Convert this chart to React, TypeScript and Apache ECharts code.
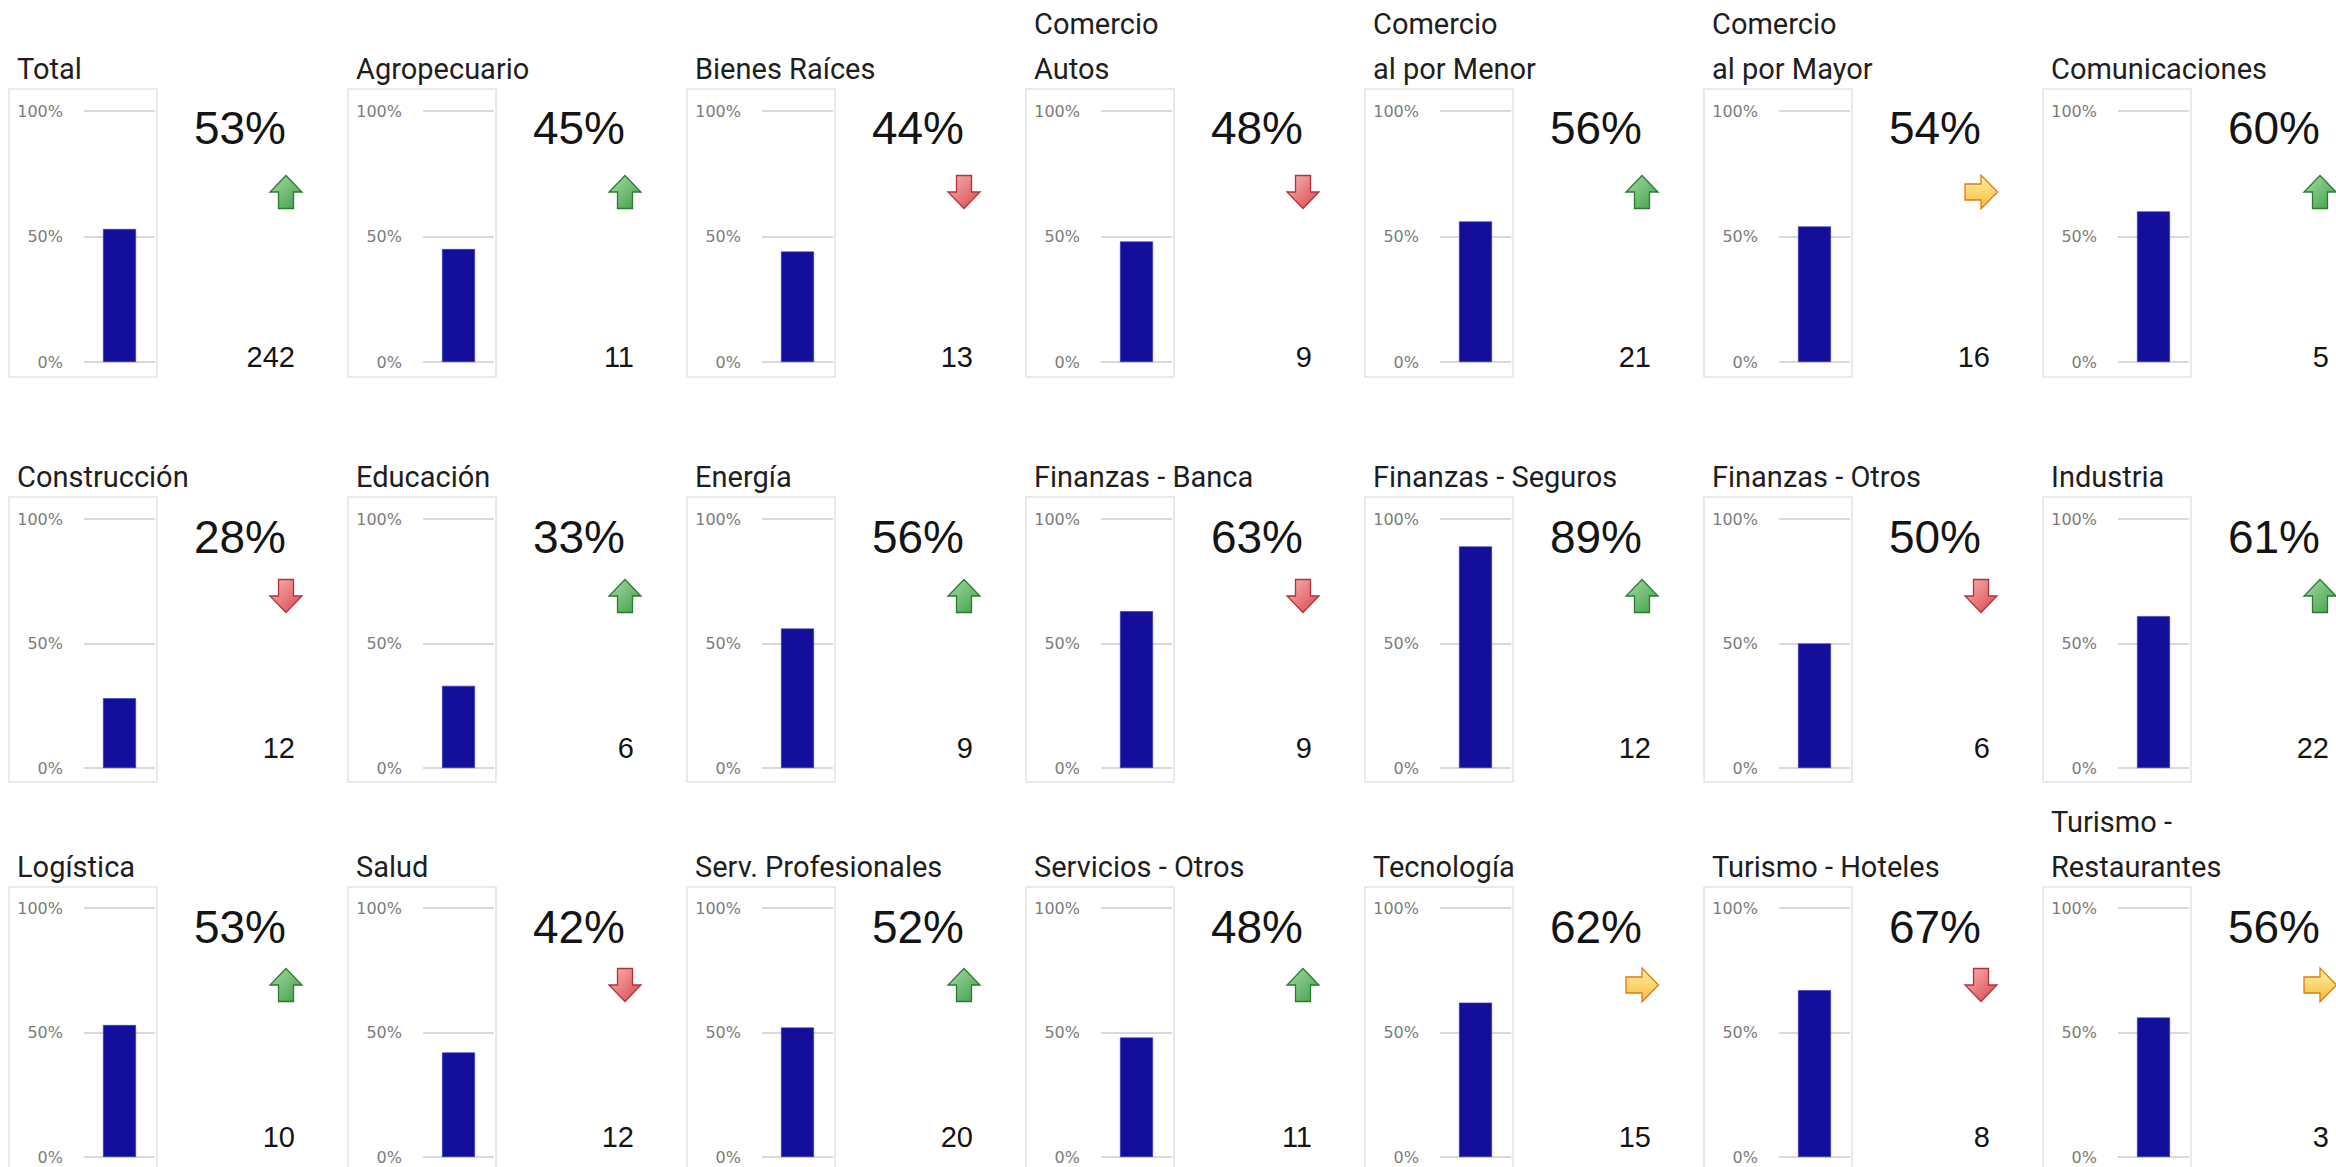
import React, { useEffect, useRef } from "react";
import * as echarts from "echarts";

// ---------- DATA ----------
const titles: string[] = [
  "Total", "Agropecuario", "Bienes Raíces", "Comercio\nAutos", "Comercio\nal por Menor", "Comercio\nal por Mayor", "Comunicaciones",
  "Construcción", "Educación", "Energía", "Finanzas - Banca", "Finanzas - Seguros", "Finanzas - Otros", "Industria",
  "Logística", "Salud", "Serv. Profesionales", "Servicios - Otros", "Tecnología", "Turismo - Hoteles", "Turismo -\nRestaurantes",
];
const pctValues: number[] = [
  53, 45, 44, 48, 56, 54, 60,
  28, 33, 56, 63, 89, 50, 61,
  53, 42, 52, 48, 62, 67, 56,
];
const counts: number[] = [
  242, 11, 13, 9, 21, 16, 5,
  12, 6, 9, 9, 12, 6, 22,
  10, 12, 20, 11, 15, 8, 3,
];
const trends: string[] = [
  "up", "up", "down", "down", "up", "right", "up",
  "down", "up", "up", "down", "up", "down", "up",
  "up", "down", "up", "up", "right", "down", "right",
];
const yTicks: number[] = [0, 0.5, 1];

// ---------- LAYOUT ----------
const COL_X0 = 9;
const COL_STEP = 339;
const NCOLS = 7;
const rows = [
  { gridTop: 111, gridH: 251, boxTop: 89, boxBot: 377, titleY: 69, pctY: 128, arrowY: 192, countY: 357 },
  { gridTop: 519, gridH: 249, boxTop: 497, boxBot: 782, titleY: 477, pctY: 537, arrowY: 596, countY: 748 },
  { gridTop: 908, gridH: 249, boxTop: 887, boxBot: 1176, titleY: 867, pctY: 927, arrowY: 985, countY: 1137 },
];

function arrowElement(kind: string, cx: number, cy: number) {
  let pts: number[][];
  let fill: any;
  let stroke: string;
  if (kind === "up") {
    pts = [[0, -16.5], [16, 0], [7.5, 0], [7.5, 16.5], [-7.5, 16.5], [-7.5, 0], [-16, 0]];
    fill = new echarts.graphic.LinearGradient(0, 0, 1, 1, [
      { offset: 0, color: "#a6dca6" },
      { offset: 1, color: "#3f9e46" },
    ]);
    stroke = "#2b7a33";
  } else if (kind === "down") {
    pts = [[0, 16.5], [16, 0], [7.5, 0], [7.5, -16.5], [-7.5, -16.5], [-7.5, 0], [-16, 0]];
    fill = new echarts.graphic.LinearGradient(0, 0, 1, 1, [
      { offset: 0, color: "#f8b4b4" },
      { offset: 1, color: "#d8454a" },
    ]);
    stroke = "#b2323a";
  } else {
    pts = [[16.5, 0], [0, -17], [0, -8], [-16, -8], [-16, 8], [0, 8], [0, 17]];
    fill = new echarts.graphic.LinearGradient(0, 0, 0, 1, [
      { offset: 0, color: "#fff3a8" },
      { offset: 1, color: "#f6b93c" },
    ]);
    stroke = "#e07a10";
  }
  return {
    type: "polygon",
    shape: { points: pts.map((p) => [cx + p[0], cy + p[1]]) },
    style: { fill, stroke, lineWidth: 1.3 },
    z: 10,
  };
}

export default function App() {
  const ref = useRef<HTMLDivElement>(null);

  useEffect(() => {
    if (!ref.current) return;
    const chart = echarts.init(ref.current, null, { renderer: "svg" });

    const grids: any[] = [];
    const xAxes: any[] = [];
    const yAxes: any[] = [];
    const series: any[] = [];
    const graphics: any[] = [];

    titles.forEach((title, i) => {
      const r = rows[Math.floor(i / NCOLS)];
      const x0 = COL_X0 + (i % NCOLS) * COL_STEP;

      grids.push({ left: x0 + 75, top: r.gridTop, width: 71, height: r.gridH, containLabel: false });
      xAxes.push({
        type: "category",
        gridIndex: i,
        data: [""],
        axisLine: { show: false },
        axisTick: { show: false },
        axisLabel: { show: false },
      });
      yAxes.push({
        type: "value",
        gridIndex: i,
        min: yTicks[0],
        max: yTicks[yTicks.length - 1],
        interval: yTicks[1] - yTicks[0],
        axisLine: { show: false },
        axisTick: { show: false },
        axisLabel: {
          margin: 21,
          fontFamily: "DejaVu Sans",
          fontSize: 16,
          color: "#7c7c7c",
          formatter: (v: number) => Math.round(v * 100) + "%",
        },
        splitLine: { lineStyle: { color: "#d9d9d9", width: 2 } },
      });
      series.push({
        type: "bar",
        xAxisIndex: i,
        yAxisIndex: i,
        data: [pctValues[i] / 100],
        barWidth: 33,
        itemStyle: { color: "#130f9a", borderColor: "#3a36b8", borderWidth: 0.6 },
        silent: true,
      });

      // panel box
      graphics.push({
        type: "rect",
        shape: { x: x0, y: r.boxTop, width: 148, height: r.boxBot - r.boxTop },
        style: { fill: "none", stroke: "#e4e4e4", lineWidth: 1.5 },
        z: 1,
      });
      // title (multi-line: last line aligned with single-line titles)
      const lines = title.split("\n");
      lines.forEach((ln, k) => {
        graphics.push({
          type: "text",
          style: {
            text: ln,
            x: x0 + 8,
            y: r.titleY - (lines.length - 1 - k) * 45,
            fontFamily: "Roboto",
            fontSize: 29,
            fill: "#1e1e1e",
            align: "left",
            verticalAlign: "middle",
          },
          z: 10,
        });
      });
      // big percentage
      graphics.push({
        type: "text",
        style: {
          text: pctValues[i] + "%",
          x: x0 + 277,
          y: r.pctY,
          fontFamily: "Liberation Sans",
          fontSize: 46,
          fill: "#141414",
          align: "right",
          verticalAlign: "middle",
        },
        z: 10,
      });
      // count
      graphics.push({
        type: "text",
        style: {
          text: String(counts[i]),
          x: x0 + 286,
          y: r.countY,
          fontFamily: "Liberation Sans",
          fontSize: 29,
          fill: "#141414",
          align: "right",
          verticalAlign: "middle",
        },
        z: 10,
      });
      graphics.push(arrowElement(trends[i], x0 + 277, r.arrowY));
    });

    chart.setOption({
      animation: false,
      backgroundColor: "#ffffff",
      grid: grids,
      xAxis: xAxes,
      yAxis: yAxes,
      series,
      graphic: { elements: graphics },
    });

    return () => chart.dispose();
  }, []);

  return (
    <div
      ref={ref}
      style={{ position: "fixed", left: 0, top: 0, width: 2336, height: 1167, background: "#fff" }}
    />
  );
}
